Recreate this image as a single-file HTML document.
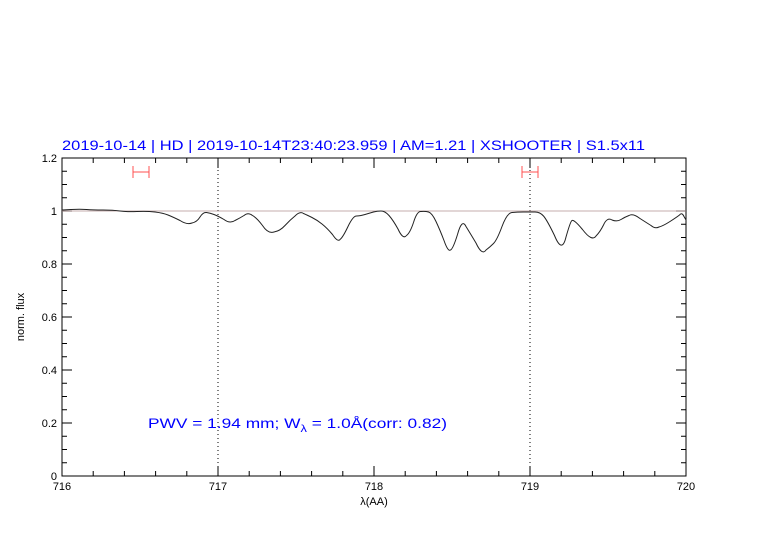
<!DOCTYPE html>
<html><head><style>body{margin:0;background:#fff}</style></head><body>
<svg width="782" height="542" xmlns="http://www.w3.org/2000/svg" font-family="Liberation Sans, sans-serif">
<rect width="782" height="542" fill="#fff"/>
<text x="62" y="150" fill="#0000ff" font-size="13.5" textLength="583" lengthAdjust="spacingAndGlyphs">2019-10-14 | HD | 2019-10-14T23:40:23.959 | AM=1.21 | XSHOOTER | S1.5x11</text>
<g stroke="#000" stroke-width="1" fill="none">
<rect x="62" y="158" width="624" height="318"/>
<path d="
M93.2,476v-5M124.4,476v-5M155.6,476v-5M186.8,476v-5M218,476v-10M249.2,476v-5M280.4,476v-5M311.6,476v-5M342.8,476v-5M374,476v-10M405.2,476v-5M436.4,476v-5M467.6,476v-5M498.8,476v-5M530,476v-10M561.2,476v-5M592.4,476v-5M623.6,476v-5M654.8,476v-5
M93.2,158v5M124.4,158v5M155.6,158v5M186.8,158v5M218,158v10M249.2,158v5M280.4,158v5M311.6,158v5M342.8,158v5M374,158v10M405.2,158v5M436.4,158v5M467.6,158v5M498.8,158v5M530,158v10M561.2,158v5M592.4,158v5M623.6,158v5M654.8,158v5"/>
<path d="
M62,462.75h5M62,449.5h5M62,436.25h5M62,423h10M62,409.75h5M62,396.5h5M62,383.25h5M62,370h10M62,356.75h5M62,343.5h5M62,330.25h5M62,317h10M62,303.75h5M62,290.5h5M62,277.25h5M62,264h10M62,250.75h5M62,237.5h5M62,224.25h5M62,211h10M62,197.75h5M62,184.5h5M62,171.25h5
M686,462.75h-5M686,449.5h-5M686,436.25h-5M686,423h-10M686,409.75h-5M686,396.5h-5M686,383.25h-5M686,370h-10M686,356.75h-5M686,343.5h-5M686,330.25h-5M686,317h-10M686,303.75h-5M686,290.5h-5M686,277.25h-5M686,264h-10M686,250.75h-5M686,237.5h-5M686,224.25h-5M686,211h-10M686,197.75h-5M686,184.5h-5M686,171.25h-5"/>
<path d="M218,158V476M530,158V476" stroke-dasharray="1,3"/>
<path d="M62,211H686" stroke="#b09090" stroke-width="0.8"/>
<path stroke="#222" stroke-width="1" stroke-linejoin="round" d="M62,210 L71,209.5 Q80,209 86.5,209.5 Q93,210 103,210 Q113,210 120,211 Q127,212 137,211.5 Q147,211 155,212 Q163,213 168,215 Q173,217 180,220.5 Q187,225 192,223 Q197,222 200,217 Q203,212 206.5,212.5 Q210,213 214,214.5 Q218,216 224,219.5 Q230,224 235,220.5 Q240,218 244,215.5 Q248,212 252.5,215.5 Q257,218 262.5,225.5 Q268,234 274,232 Q280,231 285,225.5 Q290,220 295,216 Q300,211 303.5,213.5 Q307,215 312,217.5 Q317,220 322,224 Q327,228 332.5,234.5 Q338,243 340.5,239 Q343,237 348,226.5 Q353,216 356.5,216 Q360,216 365,214.5 Q370,213 373.5,212 Q377,211 381,211 Q385,211 389,215.5 Q393,220 398,229 Q403,240 406.5,235.5 Q410,233 413.5,222.5 Q417,211 421,211.5 Q425,211 428.5,212 Q432,213 436,221.5 Q440,230 444,240.5 Q448,252 450.5,250 Q453,249 457.5,234.5 Q462,218 466,226.5 Q470,233 476,243 Q482,256 486,250 Q490,247 493.5,243.5 Q497,240 502,226.5 Q507,213 512,212.5 Q517,212 523.5,212 Q530,212 535,212 Q540,212 543.5,216 Q547,220 554.5,235.5 Q562,254 566,237 Q570,223 571.5,221 Q573,218 582.5,229.5 Q592,242 596,236 Q600,232 603.5,225 Q607,217 612,220 Q617,222 621,219.5 Q625,217 629,215.5 Q633,213 640,218.5 Q647,223 651,225.5 Q655,229 659,227 Q663,226 670,221.5 Q677,217 679.5,215 Q682,212 684,216.5 L686,220"/>
<path stroke="#ff5050" d="M133,172H149M133,166V178M149,166V178M522,172H538M522,166V178M538,166V178"/>
</g>
<g font-size="11" fill="#000" text-anchor="middle">
<text x="62" y="490">716</text><text x="218" y="490">717</text><text x="374" y="490">718</text><text x="530" y="490">719</text><text x="686" y="490">720</text>
<text x="374" y="505">λ(AA)</text>
</g>
<g font-size="11" fill="#000" text-anchor="end">
<text x="57" y="480">0</text><text x="57" y="427">0.2</text><text x="57" y="374">0.4</text><text x="57" y="321">0.6</text><text x="57" y="268">0.8</text><text x="57" y="215">1</text><text x="57" y="162">1.2</text>
</g>
<text transform="translate(24,317) rotate(-90)" font-size="11" text-anchor="middle" fill="#000">norm. flux</text>
<text x="148" y="428" fill="#0000ff" font-size="13.5" textLength="299" lengthAdjust="spacingAndGlyphs">PWV = 1.94 mm; W<tspan font-size="10" dy="4">λ</tspan><tspan dy="-4"> = 1.0Å(corr: 0.82)</tspan></text>
</svg>
</body></html>
